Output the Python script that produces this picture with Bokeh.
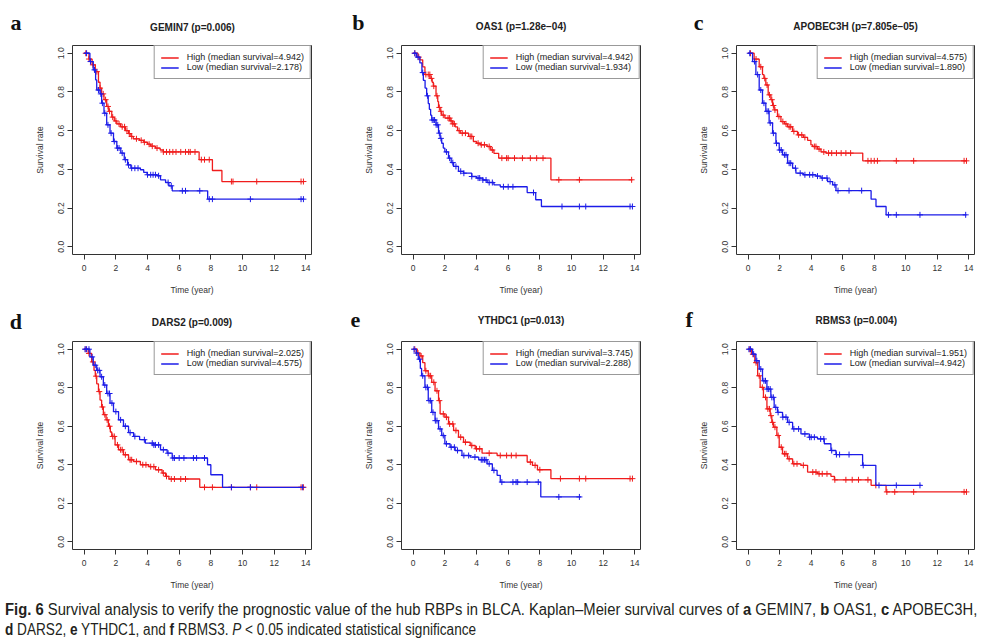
import numpy as np
from bokeh.plotting import figure
from bokeh.models import Label, Legend, LegendItem, FixedTicker, Div, Range1d, NumeralTickFormatter
from bokeh.layouts import column, row
from bokeh.embed import file_html
from bokeh.resources import INLINE

# ---------------- data ----------------
x_ticks = [0, 2, 4, 6, 8, 10, 12, 14]
y_ticks = [0.0, 0.2, 0.4, 0.6, 0.8, 1.0]

# a  GEMIN7
a_high_t = [0, 0.3, 0.5, 0.7, 0.9, 1.0, 1.1, 1.25, 1.42, 1.55, 1.74, 1.9, 2.06, 2.3, 2.6, 2.8, 2.95, 3.1, 3.5, 3.76, 4.0, 4.2, 4.5, 4.8, 5.0, 7.26, 8.1, 8.7]
a_high_s = [1.0, 0.97, 0.94, 0.905, 0.85, 0.82, 0.79, 0.76, 0.725, 0.70, 0.67, 0.65, 0.635, 0.62, 0.60, 0.585, 0.57, 0.558, 0.55, 0.54, 0.53, 0.52, 0.51, 0.50, 0.49, 0.45, 0.394, 0.337]
a_high_end = 13.9
a_high_cens = [0.1, 0.3, 0.55, 0.8, 1.0, 1.2, 1.35, 1.5, 1.6, 1.8, 2.0, 2.2, 2.4, 2.55, 2.7, 2.85, 3.0, 3.3, 3.6, 3.8, 4.1, 4.3, 4.6, 5.0, 5.2, 5.4, 5.6, 5.8, 6.1, 6.4, 6.6, 6.7, 7.0, 7.4, 7.6, 7.9, 9.3, 9.4, 10.9, 13.7, 13.85]
a_low_t = [0, 0.36, 0.57, 0.72, 0.79, 1.0, 1.1, 1.25, 1.42, 1.63, 1.85, 2.06, 2.31, 2.53, 2.74, 2.95, 3.55, 3.76, 3.97, 4.6, 4.82, 5.14, 5.35, 5.56, 7.8]
a_low_s = [1.0, 0.957, 0.914, 0.862, 0.81, 0.79, 0.742, 0.69, 0.63, 0.587, 0.544, 0.51, 0.484, 0.45, 0.423, 0.406, 0.398, 0.384, 0.372, 0.367, 0.346, 0.332, 0.315, 0.289, 0.246]
a_low_end = 13.9
a_low_cens = [0.15, 0.4, 0.65, 0.9, 1.05, 1.15, 1.3, 1.5, 1.7, 1.9, 2.1, 2.2, 2.4, 2.6, 2.8, 3.0, 3.2, 3.4, 4.0, 4.2, 4.35, 4.5, 4.7, 5.3, 5.5, 6.2, 6.4, 7.3, 7.9, 8.1, 10.5, 13.7, 13.85]

# b  OAS1
b_high_t = [0, 0.3, 0.42, 0.6, 0.74, 1.06, 1.2, 1.27, 1.44, 1.55, 1.6, 1.7, 1.8, 2.0, 2.33, 2.5, 2.65, 2.8, 2.97, 3.5, 3.8, 4.0, 4.24, 4.67, 4.9, 5.1, 5.4, 8.7]
b_high_s = [1.0, 0.98, 0.966, 0.93, 0.89, 0.87, 0.85, 0.83, 0.78, 0.75, 0.72, 0.70, 0.68, 0.665, 0.65, 0.635, 0.62, 0.60, 0.587, 0.57, 0.544, 0.535, 0.527, 0.518, 0.50, 0.483, 0.458, 0.346]
b_high_end = 13.85
b_high_cens = [0.1, 0.35, 0.8, 0.95, 1.05, 1.15, 1.3, 1.5, 1.65, 1.75, 1.9, 2.2, 2.3, 2.4, 2.5, 2.6, 2.9, 3.1, 3.3, 3.6, 3.7, 4.1, 4.3, 4.5, 4.8, 5.0, 5.6, 5.9, 6.0, 6.4, 6.9, 7.4, 7.8, 8.2, 9.2, 10.5, 13.8]
b_low_t = [0, 0.2, 0.42, 0.55, 0.64, 0.75, 0.85, 0.95, 1.02, 1.1, 1.17, 1.44, 1.6, 1.7, 1.8, 1.9, 2.0, 2.23, 2.4, 2.55, 2.86, 3.18, 3.7, 4.0, 4.4, 4.67, 5.1, 5.5, 7.2, 7.74, 8.1]
b_low_s = [1.0, 0.98, 0.95, 0.90, 0.86, 0.82, 0.78, 0.74, 0.71, 0.68, 0.655, 0.63, 0.587, 0.56, 0.535, 0.51, 0.49, 0.458, 0.435, 0.415, 0.39, 0.38, 0.363, 0.355, 0.345, 0.332, 0.32, 0.31, 0.28, 0.243, 0.208]
b_low_end = 13.85
b_low_cens = [0.1, 0.3, 0.6, 0.9, 1.2, 1.3, 1.35, 1.45, 1.55, 1.65, 1.75, 2.1, 2.3, 2.5, 2.7, 3.0, 3.2, 3.7, 4.1, 4.2, 4.4, 4.6, 4.8, 5.0, 5.7, 6.0, 6.3, 7.6, 9.4, 10.5, 10.9, 13.7, 13.85]

# c  APOBEC3H
c_high_t = [0, 0.38, 0.7, 0.91, 1.0, 1.12, 1.27, 1.44, 1.55, 1.65, 1.86, 2.08, 2.3, 2.5, 2.82, 3.13, 3.5, 3.77, 3.98, 4.09, 4.4, 4.62, 4.94, 7.27]
c_high_s = [1.0, 0.97, 0.93, 0.89, 0.87, 0.836, 0.785, 0.76, 0.73, 0.707, 0.673, 0.647, 0.635, 0.62, 0.596, 0.578, 0.565, 0.55, 0.527, 0.518, 0.505, 0.49, 0.484, 0.444]
c_high_end = 13.85
c_high_cens = [0.15, 0.5, 0.8, 1.05, 1.2, 1.35, 1.5, 1.6, 1.7, 1.95, 2.2, 2.4, 2.6, 2.7, 2.9, 3.2, 3.4, 3.6, 4.2, 4.3, 4.5, 4.8, 5.1, 5.3, 5.6, 5.9, 6.2, 6.5, 7.6, 7.8, 8.0, 8.2, 9.4, 10.5, 13.7, 13.85]
c_low_t = [0, 0.28, 0.49, 0.7, 0.91, 1.12, 1.33, 1.55, 1.76, 1.97, 2.18, 2.5, 2.82, 3.03, 3.5, 4.3, 4.62, 5.04, 5.36, 5.57, 7.8, 8.11, 8.75]
c_low_s = [1.0, 0.957, 0.89, 0.81, 0.742, 0.70, 0.64, 0.587, 0.535, 0.50, 0.475, 0.432, 0.406, 0.38, 0.372, 0.365, 0.355, 0.337, 0.32, 0.29, 0.246, 0.208, 0.165]
c_low_end = 13.85
c_low_cens = [0.1, 0.4, 0.6, 0.8, 1.0, 1.2, 1.3, 1.4, 1.6, 1.8, 2.0, 2.1, 2.3, 2.4, 2.6, 2.7, 3.0, 3.3, 3.6, 3.9, 4.1, 4.4, 4.7, 5.0, 5.2, 5.5, 5.7, 6.4, 7.2, 8.9, 9.4, 10.9, 13.8]

# d  DARS2
d_high_t = [0, 0.25, 0.47, 0.62, 0.7, 0.79, 0.9, 1.0, 1.1, 1.21, 1.38, 1.53, 1.65, 1.74, 1.95, 2.17, 2.48, 2.8, 3.12, 3.55, 4.08, 4.5, 4.92, 5.14, 5.35, 7.3]
d_high_s = [1.0, 0.978, 0.934, 0.89, 0.86, 0.82, 0.78, 0.736, 0.70, 0.66, 0.633, 0.60, 0.57, 0.547, 0.503, 0.478, 0.452, 0.426, 0.417, 0.40, 0.39, 0.374, 0.357, 0.34, 0.326, 0.283]
d_high_end = 13.85
d_high_cens = [0.1, 0.3, 0.55, 0.75, 0.95, 1.15, 1.3, 1.45, 1.6, 1.8, 1.9, 2.1, 2.3, 2.4, 2.6, 2.9, 3.0, 3.3, 3.7, 3.9, 4.2, 4.4, 4.7, 5.0, 5.2, 5.5, 5.7, 6.1, 6.4, 7.6, 8.1, 9.3, 10.5, 10.9, 13.7, 13.85]
d_low_t = [0, 0.36, 0.57, 0.79, 1.0, 1.21, 1.42, 1.63, 1.85, 2.17, 2.48, 2.8, 3.12, 3.5, 3.86, 4.4, 4.82, 5.24, 5.56, 7.79, 8.0, 8.74]
d_low_s = [1.0, 0.96, 0.917, 0.89, 0.857, 0.814, 0.77, 0.72, 0.676, 0.633, 0.60, 0.567, 0.547, 0.53, 0.512, 0.503, 0.478, 0.46, 0.435, 0.40, 0.348, 0.283]
d_low_end = 13.85
d_low_cens = [0.05, 0.15, 0.3, 0.5, 0.7, 0.85, 0.95, 1.1, 1.3, 1.5, 1.6, 1.75, 2.0, 2.3, 2.6, 2.9, 3.2, 3.8, 4.3, 4.4, 4.5, 4.7, 5.0, 5.3, 5.6, 5.7, 6.0, 6.3, 6.9, 7.1, 7.6, 9.3, 10.5, 13.8]

# e  YTHDC1
e_high_t = [0, 0.25, 0.42, 0.6, 0.74, 0.95, 1.17, 1.38, 1.6, 1.7, 2.0, 2.23, 2.55, 2.86, 3.18, 3.6, 3.92, 4.35, 5.3, 7.2, 7.53, 7.85, 8.7]
e_high_s = [1.0, 0.98, 0.965, 0.93, 0.888, 0.862, 0.828, 0.784, 0.733, 0.664, 0.647, 0.612, 0.578, 0.543, 0.517, 0.50, 0.483, 0.46, 0.448, 0.414, 0.397, 0.374, 0.328]
e_high_end = 13.85
e_high_cens = [0.1, 0.3, 0.5, 0.8, 1.0, 1.1, 1.3, 1.5, 1.65, 1.9, 2.1, 2.3, 2.5, 2.7, 3.0, 3.3, 3.7, 4.0, 4.2, 4.8, 5.5, 5.9, 6.2, 6.5, 7.4, 7.7, 8.0, 9.3, 10.5, 10.9, 13.7, 13.85]
e_low_t = [0, 0.2, 0.32, 0.45, 0.53, 0.74, 0.95, 1.17, 1.38, 1.6, 1.8, 2.0, 2.33, 2.65, 3.08, 3.6, 4.14, 4.67, 5.0, 5.3, 5.5, 8.06]
e_low_s = [1.0, 0.98, 0.948, 0.90, 0.862, 0.802, 0.733, 0.672, 0.629, 0.586, 0.552, 0.509, 0.491, 0.474, 0.448, 0.44, 0.426, 0.405, 0.371, 0.345, 0.31, 0.233]
e_low_end = 10.6
e_low_cens = [0.05, 0.2, 0.4, 0.6, 0.8, 0.9, 1.0, 1.1, 1.25, 1.4, 1.5, 1.7, 1.9, 2.1, 2.4, 2.6, 2.8, 3.2, 3.5, 3.9, 4.3, 4.4, 4.5, 4.6, 4.8, 5.1, 5.6, 6.3, 6.5, 6.6, 7.2, 7.9, 9.2, 10.5]

# f  RBMS3
f_high_t = [0, 0.21, 0.42, 0.6, 0.76, 0.97, 1.19, 1.4, 1.5, 1.61, 1.82, 1.97, 2.18, 2.5, 2.82, 3.35, 3.77, 4.4, 5.25, 5.47, 7.8, 8.75]
f_high_s = [1.0, 0.974, 0.93, 0.862, 0.802, 0.75, 0.69, 0.655, 0.62, 0.595, 0.552, 0.491, 0.457, 0.431, 0.405, 0.397, 0.362, 0.353, 0.34, 0.322, 0.293, 0.259]
f_high_end = 13.85
f_high_cens = [0.1, 0.3, 0.5, 0.7, 0.9, 1.1, 1.25, 1.35, 1.45, 1.55, 1.7, 1.9, 2.1, 2.3, 2.4, 2.6, 2.9, 3.1, 3.5, 4.1, 4.3, 4.5, 4.7, 5.0, 5.5, 6.2, 6.6, 7.0, 7.6, 8.1, 8.8, 9.3, 10.5, 13.7, 13.85]
f_low_t = [0, 0.28, 0.49, 0.7, 0.91, 1.19, 1.44, 1.65, 1.86, 2.18, 2.5, 2.82, 3.35, 3.88, 4.4, 4.83, 5.25, 5.57, 7.26, 8.1]
f_low_s = [1.0, 0.974, 0.94, 0.897, 0.836, 0.793, 0.75, 0.698, 0.672, 0.647, 0.62, 0.586, 0.56, 0.543, 0.534, 0.509, 0.474, 0.453, 0.397, 0.293]
f_low_end = 11.0
f_low_cens = [0.05, 0.15, 0.35, 0.55, 0.8, 1.0, 1.1, 1.2, 1.3, 1.4, 1.5, 1.6, 1.75, 1.9, 2.2, 2.4, 2.6, 2.9, 3.2, 3.6, 3.9, 4.0, 4.2, 4.6, 4.8, 5.3, 5.6, 5.8, 6.4, 7.3, 8.3, 9.4, 10.9]

letters = ["a", "b", "c", "d", "e", "f"]
genes = ["GEMIN7", "OAS1", "APOBEC3H", "DARS2", "YTHDC1", "RBMS3"]
pvals = ["0.006", "1.28e\u221204", "7.805e\u221205", "0.009", "0.013", "0.004"]
med_high = ["4.942", "4.942", "4.575", "2.025", "3.745", "1.951"]
med_low = ["2.178", "1.934", "1.890", "4.575", "2.288", "4.942"]

curves_high = [
    (a_high_t, a_high_s, a_high_end, a_high_cens),
    (b_high_t, b_high_s, b_high_end, b_high_cens),
    (c_high_t, c_high_s, c_high_end, c_high_cens),
    (d_high_t, d_high_s, d_high_end, d_high_cens),
    (e_high_t, e_high_s, e_high_end, e_high_cens),
    (f_high_t, f_high_s, f_high_end, f_high_cens),
]
curves_low = [
    (a_low_t, a_low_s, a_low_end, a_low_cens),
    (b_low_t, b_low_s, b_low_end, b_low_cens),
    (c_low_t, c_low_s, c_low_end, c_low_cens),
    (d_low_t, d_low_s, d_low_end, d_low_cens),
    (e_low_t, e_low_s, e_low_end, e_low_cens),
    (f_low_t, f_low_s, f_low_end, f_low_cens),
]

# ---------------- styling / layout ----------------
RED = "#f01c1c"
BLUE = "#1c1ce8"
INK = "#333333"
FONT = "Liberation Sans"
X0, X1 = -0.74, 14.36
Y0, Y1 = -0.04, 1.04

col_w = [330, 330, 323]
# per panel: (border_left, frame_width, border_right, border_top, frame_height, border_bottom)
geom = [
    (72, 239, 19, 8, 209, 46),
    (71, 239, 20, 8, 209, 46),
    (76, 238, 9, 8, 209, 46),
    (72, 239, 19, 7, 208, 51),
    (71, 239, 20, 7, 208, 51),
    (76, 238, 9, 7, 208, 51),
]
header_h = [37, 37, 37, 34, 34, 34]
letter_x = [10, 21.7, 33.3, 9.3, 20, 25]
letter_base = [22, 21.7, 21.7, 20.7, 19.3, 19.3]
title_cx = [192, 190.5, 195, 191.5, 190.5, 195.8]
title_cy = [27, 26, 26, 21.7, 20, 20]


def km_value(t, s, c):
    t = np.asarray(t)
    s = np.asarray(s)
    idx = np.searchsorted(t, np.asarray(c), side="right") - 1
    return s[idx]


def make_header(i):
    w = col_w[i % 3]
    h = header_h[i]
    hp = figure(frame_width=w, frame_height=h, min_border=0,
                x_range=Range1d(0, w), y_range=Range1d(h, 0),
                x_axis_location=None, y_axis_location=None,
                toolbar_location=None, tools="", output_backend="svg",
                background_fill_color="white", border_fill_color="white")
    hp.outline_line_color = None
    hp.grid.visible = False
    hp.add_layout(Label(x=letter_x[i], y=letter_base[i], text=letters[i],
                        text_align="left", text_baseline="alphabetic",
                        text_font="Liberation Serif", text_font_size="22px",
                        text_font_style="bold", text_color="#111111"))
    hp.add_layout(Label(x=title_cx[i], y=title_cy[i],
                        text="%s (p=%s)" % (genes[i], pvals[i]),
                        text_align="center", text_baseline="middle",
                        text_font=FONT, text_font_size="10px",
                        text_font_style="bold", text_color="#222222"))
    return hp


def make_panel(i):
    bl, fw, br, bt, fh, bb = geom[i]
    p = figure(frame_width=fw, frame_height=fh,
               min_border_left=bl, min_border_right=br,
               min_border_top=bt, min_border_bottom=bb,
               x_range=Range1d(X0, X1), y_range=Range1d(Y0, Y1),
               toolbar_location=None, tools="", output_backend="svg",
               background_fill_color="white", border_fill_color="white")
    p.outline_line_color = INK
    p.outline_line_width = 1
    p.grid.visible = False

    p.xaxis.ticker = FixedTicker(ticks=x_ticks)
    p.yaxis.ticker = FixedTicker(ticks=y_ticks)
    p.yaxis.formatter = NumeralTickFormatter(format="0.0")
    p.yaxis.major_label_orientation = "vertical"
    for ax in (p.xaxis, p.yaxis):
        ax.axis_line_color = None
        ax.major_tick_line_color = INK
        ax.major_tick_out = 5
        ax.major_tick_in = 0
        ax.minor_tick_line_color = None
        ax.major_label_text_font = FONT
        ax.major_label_text_font_size = "8.5px"
        ax.major_label_text_color = INK
        ax.axis_label_text_font = FONT
        ax.axis_label_text_font_size = "8.5px"
        ax.axis_label_text_font_style = "normal"
        ax.axis_label_text_color = INK
    p.xaxis.axis_label = "Time (year)"
    p.yaxis.axis_label = "Survival rate"
    p.xaxis.major_label_standoff = 5
    p.xaxis.axis_label_standoff = 11
    p.yaxis.major_label_standoff = 3
    p.yaxis.axis_label_standoff = 11

    renderers = []
    for (t, s, end, cens), col in ((curves_high[i], RED), (curves_low[i], BLUE)):
        xs = list(t) + [end]
        ys = list(s) + [s[-1]]
        r = p.step(xs, ys, mode="after", line_color=col, line_width=1.3)
        renderers.append(r)
        p.scatter(cens, km_value(t, s, cens), marker="cross", size=6,
                  line_color=col, line_width=1)

    legend = Legend(items=[
        LegendItem(label="High (median survival=%s)" % med_high[i], renderers=[renderers[0]]),
        LegendItem(label="Low (median survival=%s)" % med_low[i], renderers=[renderers[1]]),
    ], location="top_right")
    legend.margin = 0
    legend.padding = 6
    legend.spacing = 0
    legend.label_standoff = 8
    legend.glyph_width = 18
    legend.glyph_height = 9
    legend.label_height = 9
    legend.label_text_font = FONT
    legend.label_text_font_size = "9px"
    legend.label_text_color = "#222222"
    legend.border_line_color = INK
    legend.border_line_width = 1
    legend.background_fill_color = "white"
    legend.background_fill_alpha = 1.0
    p.add_layout(legend, "center")
    return p


headers = [make_header(i) for i in range(6)]
panels = [make_panel(i) for i in range(6)]

line_style = ("display:block; white-space:nowrap; transform-origin:0 0; "
              "font-family:'Liberation Sans', sans-serif; font-size:16px; "
              "line-height:20px; color:#231f20; transform:scaleX(%s);")
caption_html = (
    '<div style="%s">' % (line_style % "0.925") +
    '<b>Fig. 6</b> Survival analysis to verify the prognostic value of the hub RBPs in BLCA. '
    'Kaplan\u2013Meier survival curves of <b>a</b> GEMIN7, <b>b</b> OAS1, <b>c</b> APOBEC3H,</div>'
    '<div style="%s">' % (line_style % "0.85") +
    '<b>d</b> DARS2, <b>e</b> YTHDC1, and <b>f</b> RBMS3. <i>P</i> &lt; 0.05 indicated statistical significance'
    '</div>'
)
caption = Div(text=caption_html, width=975, height=40, margin=(0, 0, 0, 5),
              styles={"overflow": "hidden"})

layout = column(row(headers[0], headers[1], headers[2]),
                row(panels[0], panels[1], panels[2]),
                row(headers[3], headers[4], headers[5]),
                row(panels[3], panels[4], panels[5]),
                caption)

html = file_html(layout, INLINE, title="Survival analysis")
open("out.html", "w").write(html)
